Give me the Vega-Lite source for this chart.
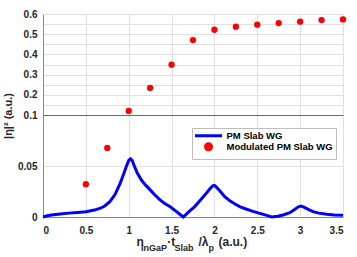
{
  "$schema": "https://vega.github.io/schema/vega-lite/v6.json",
  "width": 300,
  "height": 203,
  "autosize": "none",
  "padding": {"left": 43, "top": 14, "right": 14, "bottom": 40},
  "background": "white",
  "config": {
    "view": {"stroke": null},
    "font": "Liberation Sans",
    "axis": {
      "labelFont": "Liberation Sans",
      "labelFontSize": 10,
      "labelFontWeight": "bold",
      "labelColor": "#262626",
      "titleFont": "Liberation Sans",
      "titleFontSize": 12,
      "titleFontWeight": "bold",
      "titleColor": "#262626",
      "domainColor": "#8a8a8a"
    }
  },
  "title": {
    "text": "InGaP\u00a0\u00a0\u00a0Slab\u00a0\u00a0\u00a0\u00a0\u00a0\u00a0p",
    "orient": "bottom",
    "anchor": "start",
    "frame": "group",
    "font": "Liberation Sans",
    "fontSize": 9,
    "fontWeight": "bold",
    "color": "#262626",
    "baseline": "alphabetic",
    "offset": 0,
    "dx": 98,
    "dy": 3
  },
  "datasets": {
    "curve": [
      {"x": 0, "y": 0.0, "series": "PM Slab WG"},
      {"x": 0.05, "y": 0.0012, "series": "PM Slab WG"},
      {"x": 0.1, "y": 0.002, "series": "PM Slab WG"},
      {"x": 0.2, "y": 0.003, "series": "PM Slab WG"},
      {"x": 0.3, "y": 0.0038, "series": "PM Slab WG"},
      {"x": 0.4, "y": 0.0045, "series": "PM Slab WG"},
      {"x": 0.5, "y": 0.0052, "series": "PM Slab WG"},
      {"x": 0.6, "y": 0.0068, "series": "PM Slab WG"},
      {"x": 0.67, "y": 0.0086, "series": "PM Slab WG"},
      {"x": 0.72, "y": 0.0108, "series": "PM Slab WG"},
      {"x": 0.78, "y": 0.015, "series": "PM Slab WG"},
      {"x": 0.84, "y": 0.022, "series": "PM Slab WG"},
      {"x": 0.9, "y": 0.033, "series": "PM Slab WG"},
      {"x": 0.94, "y": 0.042, "series": "PM Slab WG"},
      {"x": 0.97, "y": 0.049, "series": "PM Slab WG"},
      {"x": 1.0, "y": 0.0555, "series": "PM Slab WG"},
      {"x": 1.02, "y": 0.057, "series": "PM Slab WG"},
      {"x": 1.04, "y": 0.0555, "series": "PM Slab WG"},
      {"x": 1.07, "y": 0.049, "series": "PM Slab WG"},
      {"x": 1.1, "y": 0.043, "series": "PM Slab WG"},
      {"x": 1.15, "y": 0.036, "series": "PM Slab WG"},
      {"x": 1.2, "y": 0.031, "series": "PM Slab WG"},
      {"x": 1.25, "y": 0.0266, "series": "PM Slab WG"},
      {"x": 1.3, "y": 0.022, "series": "PM Slab WG"},
      {"x": 1.365, "y": 0.0168, "series": "PM Slab WG"},
      {"x": 1.42, "y": 0.0133, "series": "PM Slab WG"},
      {"x": 1.48, "y": 0.0102, "series": "PM Slab WG"},
      {"x": 1.55, "y": 0.0058, "series": "PM Slab WG"},
      {"x": 1.6, "y": 0.0025, "series": "PM Slab WG"},
      {"x": 1.637, "y": 0.0, "series": "PM Slab WG"},
      {"x": 1.7, "y": 0.005, "series": "PM Slab WG"},
      {"x": 1.77, "y": 0.0102, "series": "PM Slab WG"},
      {"x": 1.83, "y": 0.016, "series": "PM Slab WG"},
      {"x": 1.89, "y": 0.0217, "series": "PM Slab WG"},
      {"x": 1.94, "y": 0.027, "series": "PM Slab WG"},
      {"x": 1.98, "y": 0.0305, "series": "PM Slab WG"},
      {"x": 2.0, "y": 0.031, "series": "PM Slab WG"},
      {"x": 2.02, "y": 0.0295, "series": "PM Slab WG"},
      {"x": 2.06, "y": 0.026, "series": "PM Slab WG"},
      {"x": 2.12, "y": 0.02, "series": "PM Slab WG"},
      {"x": 2.18, "y": 0.0158, "series": "PM Slab WG"},
      {"x": 2.24, "y": 0.0128, "series": "PM Slab WG"},
      {"x": 2.3, "y": 0.01, "series": "PM Slab WG"},
      {"x": 2.377, "y": 0.0076, "series": "PM Slab WG"},
      {"x": 2.45, "y": 0.0055, "series": "PM Slab WG"},
      {"x": 2.53, "y": 0.0036, "series": "PM Slab WG"},
      {"x": 2.6, "y": 0.0018, "series": "PM Slab WG"},
      {"x": 2.668, "y": 0.0, "series": "PM Slab WG"},
      {"x": 2.74, "y": 0.0008, "series": "PM Slab WG"},
      {"x": 2.8, "y": 0.002, "series": "PM Slab WG"},
      {"x": 2.88, "y": 0.0042, "series": "PM Slab WG"},
      {"x": 2.94, "y": 0.0076, "series": "PM Slab WG"},
      {"x": 2.98, "y": 0.01, "series": "PM Slab WG"},
      {"x": 3.01, "y": 0.0108, "series": "PM Slab WG"},
      {"x": 3.05, "y": 0.0095, "series": "PM Slab WG"},
      {"x": 3.1, "y": 0.0072, "series": "PM Slab WG"},
      {"x": 3.15, "y": 0.0052, "series": "PM Slab WG"},
      {"x": 3.22, "y": 0.0038, "series": "PM Slab WG"},
      {"x": 3.31, "y": 0.0026, "series": "PM Slab WG"},
      {"x": 3.4, "y": 0.002, "series": "PM Slab WG"},
      {"x": 3.5, "y": 0.0017, "series": "PM Slab WG"}
    ],
    "dots": [
      {"x": 0.5, "y": 0.0322, "series": "Modulated PM Slab WG"},
      {"x": 0.75, "y": 0.0677, "series": "Modulated PM Slab WG"},
      {"x": 1.0, "y": 0.12, "series": "Modulated PM Slab WG"},
      {"x": 1.25, "y": 0.234, "series": "Modulated PM Slab WG"},
      {"x": 1.5, "y": 0.349, "series": "Modulated PM Slab WG"},
      {"x": 1.75, "y": 0.471, "series": "Modulated PM Slab WG"},
      {"x": 2.0, "y": 0.522, "series": "Modulated PM Slab WG"},
      {"x": 2.25, "y": 0.537, "series": "Modulated PM Slab WG"},
      {"x": 2.5, "y": 0.547, "series": "Modulated PM Slab WG"},
      {"x": 2.75, "y": 0.555, "series": "Modulated PM Slab WG"},
      {"x": 3.0, "y": 0.562, "series": "Modulated PM Slab WG"},
      {"x": 3.25, "y": 0.57, "series": "Modulated PM Slab WG"},
      {"x": 3.5, "y": 0.573, "series": "Modulated PM Slab WG"}
    ]
  },
  "layer": [
    {
      "data": {"name": "curve"},
      "mark": {"type": "line", "strokeWidth": 3, "clip": false},
      "encoding": {
        "x": {
          "field": "x", "type": "quantitative",
          "scale": {"domain": [0, 3.5], "nice": false, "zero": false},
          "axis": {
            "values": [0, 0.5, 1, 1.5, 2, 2.5, 3, 3.5],
            "tickCount": 30,
            "format": ".1~f",
            "labelPadding": 8,
            "labelOverlap": false,
            "ticks": false,
            "grid": true,
            "gridColor": "#e0e0e0",
            "gridWidth": 1,
            "title": "n\u00a0\u00a0\u00a0\u00a0\u00a0\u00a0\u00a0·t\u00a0\u00a0\u00a0\u00a0\u00a0\u00a0\u00a0/λ\u00a0\u00a0\u00a0(a.u.)",
            "titleAnchor": "start",
            "titleAlign": "left",
            "titleBaseline": "alphabetic",
            "titleX": 93,
            "titleY": 28.5
          }
        },
        "y": {
          "field": "y", "type": "quantitative",
          "scale": {"domain": [0, 0.1, 0.6], "range": [203, 101, 0], "nice": false, "zero": false},
          "axis": {
            "values": [0, 0.05, 0.1, 0.15, 0.2, 0.25, 0.3, 0.35, 0.4, 0.45, 0.5, 0.55, 0.6],
            "tickCount": 30,
            "format": ".2~f",
            "labelExpr": "indexof(['0', '0.05', '0.1', '0.2', '0.3', '0.4', '0.5', '0.6'], datum.label) >= 0 ? datum.label : ''",
            "labelOverlap": false,
            "labelPadding": 6,
            "ticks": false,
            "grid": true,
            "gridColor": {"condition": {"test": "abs(datum.value - 0.1) < 0.001", "value": "#6b6b6b"}, "value": "#e0e0e0"},
            "gridWidth": 1,
            "titlePadding": 4,
            "titleFontSize": 11,
            "title": "|η|² (a.u.)"
          }
        },
        "color": {
          "field": "series", "type": "nominal",
          "scale": {"domain": ["PM Slab WG", "Modulated PM Slab WG"], "range": ["#0000ff", "#ff0000"]},
          "legend": {
            "title": null,
            "orient": "none",
            "legendX": 149,
            "legendY": 114,
            "fillColor": "white",
            "strokeColor": "#bdbdbd",
            "padding": 3,
            "labelFont": "Liberation Sans",
            "labelFontSize": 9.5,
            "labelFontWeight": "bold",
            "labelColor": "#000000",
            "labelLimit": 300,
            "symbolSize": 36,
            "labelOffset": 22,
            "rowPadding": -7,
            "encode": {
              "symbols": {
                "update": {
                  "shape": {"signal": "datum.value === 'PM Slab WG' ? 'stroke' : 'circle'"},
                  "size": {"signal": "datum.value === 'PM Slab WG' ? 729 : 36"},
                  "x": {"value": 13.5},
                  "fill": {"signal": "datum.value === 'PM Slab WG' ? 'transparent' : '#ff0000'"},
                  "stroke": {"signal": "datum.value === 'PM Slab WG' ? '#0000ff' : 'transparent'"},
                  "strokeWidth": {"value": 3},
                  "opacity": {"value": 1}
                }
              }
            }
          }
        }
      }
    },
    {
      "data": {"name": "dots"},
      "mark": {"type": "point", "filled": true, "size": 40, "opacity": 1},
      "encoding": {
        "x": {"field": "x", "type": "quantitative"},
        "y": {"field": "y", "type": "quantitative"},
        "color": {"field": "series", "type": "nominal"}
      }
    }
  ]
}
